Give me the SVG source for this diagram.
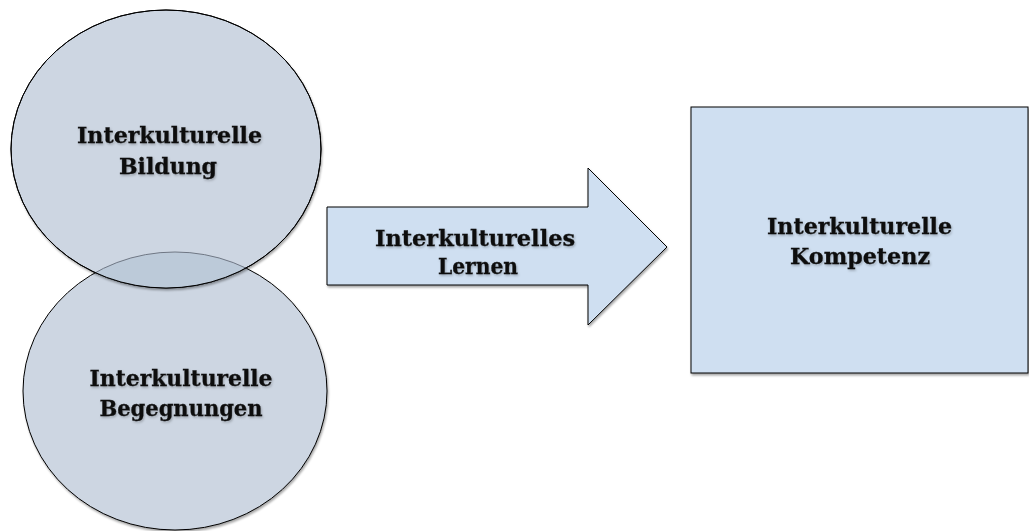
<svg xmlns="http://www.w3.org/2000/svg" width="1029" height="531" viewBox="0 0 1029 531">
  <style>
    .circle { fill: #cdd6e2; stroke: #000; stroke-width: 1; }
    .overlap { fill: #bccad9; stroke: none; }
    .blue { fill: #cfdff1; stroke: #000; stroke-width: 1; }
    .lbl { font-family: "DejaVu Serif", "Liberation Serif", serif; font-weight: bold; font-size: 22px; fill: #111; stroke: #111; stroke-width: 0.3; text-anchor: middle; }
  </style>
  <defs>
    <filter id="shadow" x="-10%" y="-10%" width="120%" height="120%">
      <feDropShadow dx="1" dy="2" stdDeviation="1.2" flood-color="#000" flood-opacity="0.35"/>
    </filter>
    <filter id="tshadow" x="-10%" y="-30%" width="120%" height="160%">
      <feDropShadow dx="1" dy="1.5" stdDeviation="1" flood-color="#000" flood-opacity="0.25"/>
    </filter>
    <clipPath id="topClip">
      <ellipse cx="166" cy="149" rx="155" ry="139"/>
    </clipPath>
  </defs>
  <rect width="1029" height="531" fill="#fff"/>
  <g id="begegnungen">
    <ellipse class="circle" cx="175" cy="391" rx="152" ry="139" filter="url(#shadow)"/>
  </g>
  <g id="bildung">
    <ellipse class="circle" cx="166" cy="149" rx="155" ry="139" filter="url(#shadow)"/>
    <g clip-path="url(#topClip)">
      <ellipse class="overlap" cx="175" cy="391" rx="152" ry="139"/>
      <ellipse cx="175" cy="391" rx="152" ry="139" fill="none" stroke="#6f7784" stroke-width="1"/>
    </g>
    <ellipse cx="166" cy="149" rx="155" ry="139" fill="none" stroke="#000" stroke-width="1"/>
  </g>
  <g id="begegnungen-label" filter="url(#tshadow)">
    <text class="lbl" x="181" y="386" textLength="183" lengthAdjust="spacingAndGlyphs">Interkulturelle</text>
    <text class="lbl" x="181" y="416" textLength="163" lengthAdjust="spacingAndGlyphs">Begegnungen</text>
  </g>
  <g id="bildung-label" filter="url(#tshadow)">
    <text class="lbl" x="169.5" y="143" textLength="185" lengthAdjust="spacingAndGlyphs">Interkulturelle</text>
    <text class="lbl" x="168" y="174" textLength="98" lengthAdjust="spacingAndGlyphs">Bildung</text>
  </g>
  <g id="connectors">
    <g id="lernen">
      <polygon class="blue" points="327,207 588,207 588,168 667,247 588,325 588,285 327,285" filter="url(#shadow)"/>
      <g filter="url(#tshadow)">
        <text class="lbl" x="475" y="246" textLength="200" lengthAdjust="spacingAndGlyphs">Interkulturelles</text>
        <text class="lbl" x="478" y="274" textLength="80" lengthAdjust="spacingAndGlyphs">Lernen</text>
      </g>
    </g>
  </g>
  <g id="kompetenz">
    <rect class="blue" x="691" y="107" width="337" height="266" filter="url(#shadow)"/>
    <g filter="url(#tshadow)">
      <text class="lbl" x="859.5" y="234" textLength="185" lengthAdjust="spacingAndGlyphs">Interkulturelle</text>
      <text class="lbl" x="860" y="264" textLength="140" lengthAdjust="spacingAndGlyphs">Kompetenz</text>
    </g>
  </g>
</svg>
